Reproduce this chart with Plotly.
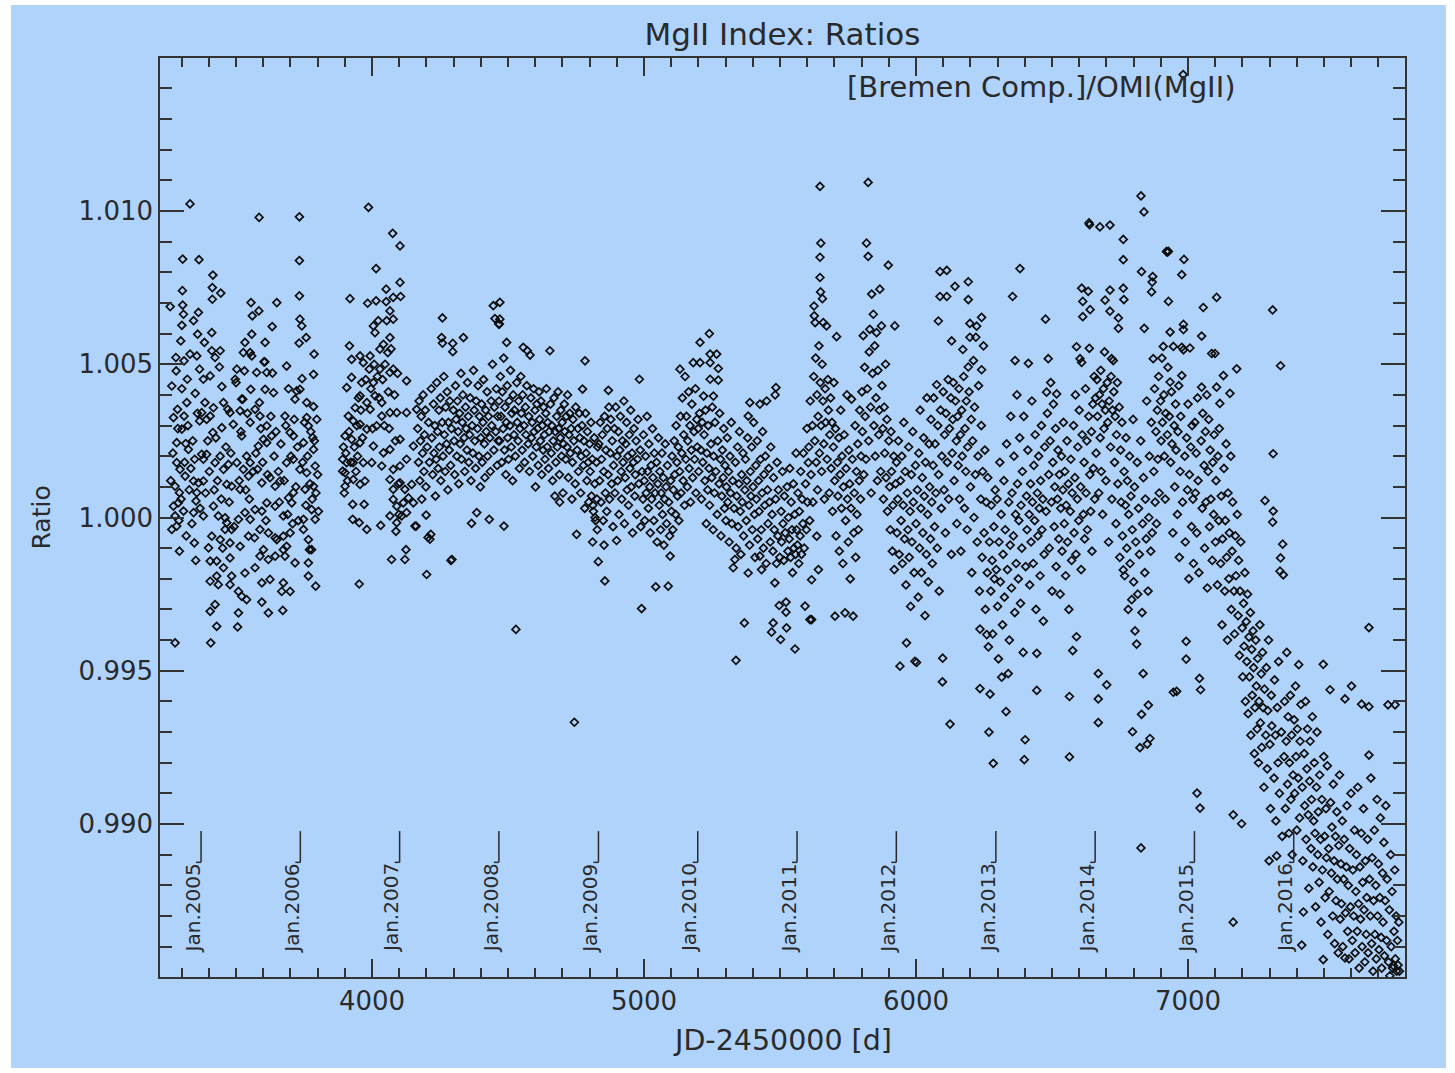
import plotly.graph_objects as go

# ---------------- data (JD-2450000, ratio) ----------------
obs_2004 = [(3258,1.00688),(3264,1.00429),(3264,0.99961),(3270,1.00326),(3270,1.00037),(3276,1.00102),(3276,1.00005),(3276,0.99591),
(3279,1.00522),(3280,1.00478),(3282,1.00244),(3282,1.00179),(3282,0.99972),(3285,1.00353),(3288,1.00048),(3292,1.00081),(3292,0.99890),
(3294,1.00157),(3297,1.00576),(3301,1.00627),(3301,1.00420),(3301,1.00288),(3303,1.00740),(3304,1.00843),(3304,1.00693),(3307,1.00663),
(3307,1.00021),(3309,1.00511),(3309,1.00331),(3313,1.00135),(3315,1.00241),(3319,1.00375),(3321,1.00451),(3325,1.00222),(3331,1.01023),
(3331,1.00533),(3344,1.00642),(3344,1.00119),(3344,1.00016),(3347,0.99917),(3350,1.00405),(3353,1.00054),(3356,1.00527),(3356,1.00081),
(3359,1.00598),(3362,1.00669),(3362,1.00113),(3364,1.00841),(3366,1.00484),(3366,1.00315),
(3260,1.00120),(3268,1.00210),(3286,1.00290),(3290,0.99990),(3298,1.00060),(3311,1.00180),(3317,0.99940),(3323,1.00300),(3328,1.00090),
(3334,1.00160),(3338,0.99980),(3341,1.00250),(3348,1.00190),(3352,0.99860),(3358,1.00340),(3368,1.00030)]

obs_2005 = [(3374,1.00342),(3374,1.00206),(3380,1.00451),(3380,1.00190),(3380,1.00119),(3380,1.00005),(3384,1.00571),(3386,1.00375),
(3392,1.00320),(3392,1.00206),(3399,0.99901),(3405,1.00462),(3405,1.00331),(3405,0.99858),(3405,0.99792),(3405,0.99694),(3407,0.99591),
(3411,1.00603),(3411,1.00544),(3411,0.99939),(3413,1.00750),(3413,1.00712),(3415,1.00791),(3415,1.00277),(3417,1.00358),(3417,1.00037),
(3423,1.00522),(3423,1.00179),(3423,0.99716),(3429,0.99858),(3429,0.99809),(3429,0.99645),(3435,1.00005),(3435,0.99781),(3439,1.00491),
(3442,1.00544),(3442,1.00200),(3442,0.99928),(3444,1.00732),(3448,1.00427),(3448,1.00293),(3454,1.00375),(3454,1.00157),(3454,0.99836),
(3460,0.99999),(3460,0.99961),(3466,1.00108),(3466,0.99983),(3470,1.00353),(3472,1.00173),(3478,1.00342),(3478,0.99917),(3478,0.99868),
(3478,0.99781),(3484,1.00102),(3484,0.99961),(3484,0.99809),(3490,1.00304),(3497,1.00451),(3500,1.00440),(3503,1.00484),(3503,1.00179),
(3506,0.99643),(3509,0.99994),(3509,0.99759),(3509,0.99689),(3515,1.00348),(3515,1.00092),(3515,0.99906),(3521,1.00386),(3521,1.00266),
(3521,0.99743),(3525,1.00386),(3527,1.00538),(3527,1.00157),(3531,1.00478),(3533,1.00571),(3533,1.00016),(3533,0.99819),(3539,1.00200),
(3539,0.99732),(3546,1.00135),(3546,0.99939),(3552,1.00538),(3552,1.00310),(3552,1.00179),(3552,0.99994),(3554,1.00418),(3555,1.00701),
(3558,1.00598),(3558,1.00527),(3560,1.00658),(3568,0.99934),(3570,1.00353),(3570,1.00026),(3570,0.99836),(3576,1.00473),(3579,1.00157),
(3582,1.00233),(3584,1.00674),(3585,1.00979),(3586,1.00375),(3588,1.00331),(3588,0.99961),(3588,0.99874),(3595,1.00113),(3595,1.00021),
(3595,0.99787),(3595,0.99724),(3601,1.00255),(3601,0.99895),(3603,1.00508),(3606,1.00508),(3607,1.00571),(3607,1.00418),(3613,1.00473),
(3613,1.00299),(3613,1.00244),(3613,1.00048),(3619,0.99950),(3619,0.99863),(3619,0.99689),(3625,1.00130),(3625,0.99798),(3631,1.00266),
(3633,1.00623),(3634,1.00471),(3638,1.00407),(3644,1.00102),(3644,1.00037),(3644,0.99934),(3644,0.99874),(3650,1.00701),(3650,0.99928),
(3662,1.00119),(3668,0.99759),(3672,0.99697),(3674,1.00005),(3674,0.99939),(3674,0.99895),(3674,0.99787),(3680,1.00331),(3680,0.99874),
(3686,1.00494),(3686,1.00179),(3686,0.99906),(3693,1.00420),(3693,1.00064),(3699,1.00277),(3699,0.99950),(3699,0.99759),(3705,1.00048),
(3711,1.00266),(3711,1.00190),(3711,1.00081),(3717,1.00386),(3717,0.99852),(3723,1.00413),(3732,1.00569),(3733,1.00981),(3733,1.00838),
(3733,1.00723),(3735,1.00647),(3735,1.00418),(3735,1.00157),
(3388,1.00080),(3396,1.00250),(3402,1.00150),(3420,1.00090),(3426,1.00260),(3432,1.00120),(3446,1.00060),(3451,0.99900),(3463,1.00230),
(3475,1.00050),(3481,1.00210),(3493,0.99970),(3512,1.00120),(3518,1.00280),(3536,1.00090),(3542,1.00340),(3549,1.00060),(3563,1.00150),
(3573,1.00210),(3591,1.00290),(3598,1.00180),(3610,0.99990),(3616,1.00140),(3628,1.00330),(3640,1.00200),(3647,1.00280),(3656,1.00150),
(3659,1.00050),(3665,1.00240),(3677,1.00120),(3683,1.00300),(3690,1.00010),(3702,1.00200),(3708,0.99980),(3714,1.00320),(3720,1.00100),
(3726,1.00230),(3729,0.99990)]

obs_2006 = [(3742,1.00625),(3743,1.00453),(3748,1.00244),(3748,0.99994),(3748,0.99961),(3754,1.00092),(3758,1.00587),(3760,1.00375),
(3760,1.00326),(3760,1.00146),(3766,1.00299),(3766,0.99928),(3766,0.99852),(3766,0.99809),(3770,0.99895),(3778,1.00026),(3778,0.99895),
(3782,1.00261),(3785,1.00467),(3785,1.00362),(3785,1.00222),(3785,1.00102),(3787,1.00533),(3791,1.00168),(3791,0.99994),(3793,0.99776),
(3745,1.00180),(3752,1.00310),(3757,1.00040),(3763,1.00200),(3772,1.00110),(3775,1.00280),(3780,1.00060),(3788,1.00250),(3794,1.00080),
(3797,1.00320),(3800,1.00140),(3803,1.00020),
(3892,1.00190),(3892,1.00151),(3901,1.00266),(3901,1.00146),(3901,1.00102),(3907,1.00424),(3907,1.00179),(3913,1.00331),(3917,1.00560),
(3919,1.00714),(3925,1.00516),(3925,1.00457),(3925,1.00255),(3929,1.00043),(3929,0.99994),(3931,1.00315),(3931,1.00179),(3931,1.00124),
(3938,1.00358),(3953,0.99983),(3953,0.99783),(3956,1.00527),(3956,1.00397),(3956,1.00304),(3956,1.00244),(3956,1.00108),(3962,1.00440),
(3968,1.00505),(3968,1.00179),(3971,1.00043),(3974,1.00119),(3981,1.00375),(3981,1.00288),(3981,0.99961),(3984,1.00699),(3987,1.01012),
(3990,1.00484),(3993,1.00527),(3993,1.00353),(3999,1.00179),(4005,1.00625),(4005,1.00440),(4005,1.00233),(4011,1.00603),(4011,1.00397),
(4015,1.00812),(4015,1.00707),(4017,1.00299),(4023,1.00642),(4029,1.00549),(4029,1.00484),(4032,0.99974),(4036,1.00375),(4036,1.00331),
(4036,1.00168),(4042,1.00565),(4042,1.00211),(4052,1.00745),(4052,1.00704),(4054,1.00642),(4058,1.00538),(4066,1.00674),(4066,1.00587),
(4066,1.00473),(4066,1.00342),(4066,1.00222),(4066,1.00124),(4066,1.00005),(4072,0.99863),(4076,1.00927),(4078,1.00718),(4078,1.00647),
(4078,1.00484),(4078,1.00157),(4078,1.00092),(4078,1.00059),(4088,0.99955),(4091,1.00342),(4091,1.00037),(4091,0.99983),
(3895,1.00230),(3898,1.00080),(3904,1.00210),(3910,1.00120),(3916,1.00280),(3922,1.00180),(3935,1.00230),(3941,1.00150),(3944,1.00300),
(3947,1.00200),(3950,1.00390),(3959,1.00350),(3965,1.00260),(3977,1.00450),(3996,1.00420),(4002,1.00290),(4008,1.00500),(4020,1.00460),
(4026,1.00390),(4039,1.00450),(4045,1.00300),(4048,1.00500),(4060,1.00410),(4063,1.00290),(4070,1.00550),(4083,1.00400),(4086,1.00250),
(4094,1.00470),(4097,1.00110),(4099,1.00010)]

obs_2007 = [(4103,1.00886),(4103,1.00767),(4103,1.00255),(4103,1.00168),(4103,1.00113),(4105,1.00721),(4109,1.00005),(4115,1.00048),
(4121,1.00092),(4121,0.99863),(4125,0.99895),(4127,1.00446),(4127,1.00342),(4127,1.00190),(4127,1.00016),(4134,1.00064),(4146,1.00108),
(4152,1.00233),(4152,1.00048),(4158,0.99972),(4162,0.99972),(4164,1.00353),
(4199,1.00008),(4201,0.99814),(4213,0.99929),(4216,0.99945),(4256,1.00587),(4259,1.00651),(4259,1.00569),(4290,0.99860),(4297,1.00568),
(4297,1.00541),(4336,1.00587),(4366,0.99981),(4385,1.00016),(4431,0.99994),(4446,1.00691),(4452,1.00649),(4466,1.00631),
(4168,1.00290),(4171,1.00180),(4173,1.00380),(4176,1.00120),(4178,1.00250),(4181,1.00330),(4183,1.00060),(4186,1.00210),(4188,1.00400),
(4191,1.00150),(4193,1.00270),(4196,1.00350),(4198,1.00100),(4203,1.00230),(4206,0.99935),(4208,1.00310),(4211,1.00180),(4218,1.00420),
(4220,1.00260),(4223,1.00140),(4226,1.00370),(4228,1.00210),(4231,1.00300),(4233,1.00070),(4236,1.00190),(4238,1.00440),(4241,1.00280),
(4243,1.00160),(4246,1.00350),(4248,1.00230),(4251,1.00390),(4253,1.00120),(4258,1.00310),(4261,1.00200),(4264,1.00460),(4266,1.00270),
(4269,1.00150),(4271,1.00360),(4274,1.00240),(4276,1.00410),(4279,1.00090),(4281,1.00310),(4284,1.00220),(4286,1.00380),(4289,1.00170),
(4292,1.00290),(4294,0.99863),(4299,1.00350),(4302,1.00250),(4304,1.00140),(4307,1.00430),(4309,1.00320),(4312,1.00200),(4314,1.00380),
(4317,1.00280),(4319,1.00110),(4322,1.00340),(4324,1.00240),(4327,1.00470),(4329,1.00190),(4332,1.00310),(4334,1.00400),(4339,1.00260),
(4341,1.00150),(4344,1.00360),(4346,1.00290),(4349,1.00220),(4351,1.00440),(4354,1.00330),(4356,1.00180),(4359,1.00270),(4361,1.00390),
(4364,1.00120),(4368,1.00300),(4371,1.00210),(4373,1.00480),(4376,1.00350),(4378,1.00250),(4381,1.00160),(4383,1.00380),(4388,1.00290),
(4390,1.00430),(4393,1.00200),(4395,1.00330),(4398,1.00100),(4400,1.00260),(4403,1.00370),(4405,1.00180),(4408,1.00310),(4410,1.00450),
(4413,1.00240),(4415,1.00130),(4418,1.00350),(4420,1.00280),(4423,1.00410),(4425,1.00200),(4428,1.00330),(4433,1.00260),(4435,1.00150),
(4438,1.00380),(4440,1.00300),(4443,1.00500),(4448,1.00220),(4450,1.00360),(4455,1.00280),(4457,1.00420),(4460,1.00170),(4462,1.00330),
(4464,1.00250)]

obs_2008 = [(4468,1.00631),(4470,1.00702),(4470,1.00647),(4485,0.99972),(4495,1.00571),(4529,0.99635),(4556,1.00555),(4571,1.00544),
(4581,1.00530),(4654,1.00544),(4744,0.99332),(4752,0.99945),(4774,1.00419),(4783,1.00511),(4811,0.99920),(4832,0.99856),
(4672,1.00070),(4690,1.00050),(4735,1.00060),(4812,1.00040),(4820,1.00000),(4828,0.99960),
(4467,1.00380),(4469,1.00250),(4472,1.00460),(4474,1.00330),(4477,1.00180),(4479,1.00410),(4482,1.00290),(4484,1.00520),(4487,1.00220),
(4489,1.00360),(4492,1.00140),(4494,1.00310),(4497,1.00430),(4499,1.00260),(4502,1.00190),(4504,1.00380),(4507,1.00300),(4509,1.00480),
(4512,1.00230),(4514,1.00340),(4517,1.00120),(4519,1.00400),(4522,1.00270),(4524,1.00350),(4527,1.00200),(4532,1.00440),(4534,1.00310),
(4537,1.00250),(4539,1.00380),(4542,1.00160),(4544,1.00290),(4547,1.00460),(4549,1.00340),(4552,1.00220),(4554,1.00400),(4559,1.00300),
(4561,1.00180),(4564,1.00360),(4566,1.00270),(4569,1.00430),(4574,1.00240),(4576,1.00330),(4579,1.00150),(4584,1.00390),(4586,1.00260),
(4589,1.00310),(4591,1.00200),(4594,1.00420),(4596,1.00280),(4599,1.00350),(4601,1.00100),(4604,1.00230),(4606,1.00370),(4609,1.00290),
(4611,1.00170),(4614,1.00410),(4616,1.00320),(4619,1.00250),(4621,1.00380),(4624,1.00140),(4626,1.00300),(4629,1.00220),(4631,1.00360),
(4634,1.00270),(4636,1.00190),(4639,1.00340),(4641,1.00420),(4644,1.00230),(4646,1.00310),(4649,1.00160),(4651,1.00280),(4656,1.00370),
(4659,1.00210),(4661,1.00300),(4664,1.00120),(4666,1.00250),(4669,1.00390),(4674,1.00280),(4676,1.00180),(4679,1.00330),(4681,1.00230),
(4684,1.00410),(4686,1.00290),(4689,1.00140),(4692,1.00260),(4694,1.00350),(4697,1.00200),(4699,1.00310),(4702,1.00080),(4704,1.00240),
(4707,1.00370),(4709,1.00280),(4712,1.00190),(4714,1.00330),(4717,1.00230),(4719,1.00400),(4722,1.00130),(4724,1.00270),(4727,1.00340),
(4729,1.00210),(4732,1.00290),(4737,1.00180),(4739,1.00320),(4742,1.00250),(4747,1.00110),(4749,1.00360),(4754,1.00220),(4757,1.00290),
(4759,1.00150),(4762,1.00340),(4764,1.00260),(4767,1.00080),(4769,1.00200),(4772,1.00300),(4777,1.00170),(4779,1.00250),(4782,1.00030),
(4785,1.00340),(4787,1.00210),(4790,1.00120),(4792,1.00280),(4795,1.00180),(4797,1.00050),(4800,1.00240),(4802,1.00150),(4805,1.00310),
(4807,1.00070),(4810,1.00190),(4814,1.00020),(4817,1.00260),(4819,1.00110),(4822,0.99990),(4825,1.00180),(4827,1.00060),(4830,1.00230)]

obs_2009 = [(4853,0.99910),(4856,0.99793),(4869,1.00415),(4899,0.99925),(4983,1.00451),(4991,0.99703),(5043,0.99774),(5089,0.99776),
(4834,1.00240),(4837,1.00120),(4839,1.00310),(4842,1.00050),(4844,1.00190),(4847,1.00270),(4850,0.99990),(4852,1.00150),(4855,1.00330),
(4858,1.00080),(4860,1.00220),(4863,1.00020),(4865,1.00290),(4868,1.00140),(4871,1.00360),(4873,1.00060),(4876,1.00210),(4878,1.00320),
(4881,1.00110),(4883,1.00250),(4886,0.99970),(4888,1.00170),(4891,1.00290),(4893,1.00080),(4896,1.00360),(4901,1.00200),(4903,1.00120),
(4906,1.00280),(4908,1.00010),(4911,1.00220),(4913,1.00330),(4916,1.00150),(4918,1.00060),(4921,1.00250),(4923,1.00180),(4926,1.00380),
(4928,0.99980),(4931,1.00130),(4933,1.00240),(4936,1.00310),(4938,1.00090),(4941,1.00200),(4943,1.00040),(4946,1.00270),(4948,1.00160),
(4951,1.00350),(4953,1.00100),(4956,1.00210),(4958,0.99950),(4961,1.00180),(4963,1.00290),(4966,1.00070),(4968,1.00140),(4971,1.00250),
(4973,1.00010),(4976,1.00190),(4978,1.00320),(4981,1.00110),(4986,1.00220),(4988,0.99970),(4993,1.00150),(4996,1.00060),(4998,1.00270),
(5001,1.00120),(5003,0.99990),(5006,1.00200),(5008,1.00080),(5011,1.00330),(5013,1.00150),(5016,1.00030),(5018,1.00240),(5021,1.00100),
(5023,0.99950),(5026,1.00170),(5028,1.00060),(5031,1.00290),(5033,1.00130),(5036,0.99990),(5038,1.00210),(5041,1.00080),(5046,1.00180),
(5048,0.99920),(5051,1.00110),(5053,1.00260),(5056,1.00040),(5058,1.00150),(5061,0.99960),(5063,1.00080),(5066,1.00210),(5068,1.00010),
(5071,1.00130),(5073,0.99910),(5076,1.00060),(5078,1.00240),(5081,1.00100),(5083,0.99980),(5086,1.00170),(5091,1.00050),(5094,0.99940),
(5096,0.99874),(5098,1.00120),(5101,1.00020),(5103,1.00200),(5106,0.99960),(5108,1.00090),(5111,1.00250),(5113,1.00140),(5116,1.00010),
(5118,1.00300),(5121,1.00180),(5123,1.00070),(5126,1.00230),(5128,0.99990),(5131,1.00150),(5132,1.00484),(5134,1.00330),(5136,1.00080),
(5139,1.00210),(5141,1.00390),(5144,1.00120),(5146,1.00270),(5149,1.00040),(5151,1.00460),(5154,1.00190),(5156,1.00330),(5159,1.00100),
(5161,1.00250),(5164,1.00410),(5166,1.00160),(5169,1.00300),(5171,1.00050),(5174,1.00220),(5176,1.00370),(5179,1.00130),(5181,1.00505),
(5184,1.00280),(5186,1.00190),(5189,1.00420),(5191,1.00080),(5194,1.00320),(5196,1.00230)]

obs_2010 = [(5206,1.00571),(5206,1.00505),(5240,1.00600),(5243,1.00533),(5267,1.00533),(5243,1.00505),(5273,1.00486),(5243,1.00451),
(5273,1.00448),(5219,1.00396),(5255,1.00396),(5369,0.99656),(5338,0.99534),(5475,0.99656),(5469,0.99626),(5502,0.99602),(5524,0.99640),
(5555,0.99571),(5522,0.99724),(5497,0.99713),(5522,0.99691),(5485,1.00424),(5451,1.00380),(5389,1.00375),(5383,1.00331),(5481,0.99787),
(5426,0.99874),(5432,0.99830),(5383,0.99819),(5328,0.99836),(5334,0.99863),(5482,1.00400),(5426,1.00370),
(5199,1.00290),(5201,1.00150),(5204,1.00340),(5209,1.00220),(5211,1.00060),(5214,1.00310),(5216,1.00180),(5221,1.00270),(5224,1.00120),
(5226,1.00350),(5229,0.99980),(5231,1.00210),(5234,1.00090),(5236,1.00300),(5239,1.00160),(5241,1.00040),(5246,1.00240),(5249,1.00130),
(5251,1.00360),(5254,0.99960),(5256,1.00200),(5259,1.00080),(5261,1.00310),(5264,1.00150),(5269,1.00010),(5271,1.00250),(5276,1.00110),
(5278,1.00340),(5281,1.00190),(5283,0.99940),(5286,1.00070),(5288,1.00220),(5291,1.00130),(5293,1.00290),(5296,1.00030),(5298,1.00170),
(5301,0.99990),(5303,1.00100),(5306,1.00260),(5308,1.00050),(5311,1.00150),(5313,0.99920),(5316,1.00200),(5318,1.00080),(5321,1.00310),
(5323,0.99980),(5326,1.00120),(5331,1.00030),(5336,1.00180),(5339,0.99900),(5341,1.00070),(5344,1.00230),(5346,0.99970),(5349,1.00110),
(5351,1.00280),(5354,1.00020),(5356,0.99880),(5359,1.00140),(5361,1.00050),(5364,1.00210),(5366,0.99940),(5371,1.00090),(5373,1.00190),
(5376,0.99990),(5378,1.00120),(5381,1.00260),(5386,1.00040),(5388,0.99910),(5391,1.00150),(5393,1.00070),(5396,1.00230),(5398,0.99960),
(5401,1.00100),(5403,1.00310),(5406,1.00010),(5408,0.99870),(5411,1.00170),(5413,1.00060),(5416,1.00250),(5418,0.99930),(5421,1.00120),
(5423,1.00020),(5428,1.00190),(5431,0.99960),(5434,1.00080),(5436,1.00280),(5439,0.99900),(5441,1.00140),(5444,1.00040),(5446,1.00200),
(5449,0.99850),(5454,1.00090),(5456,0.99980),(5459,1.00160),(5461,1.00050),(5464,0.99920),(5466,1.00230),(5471,1.00010),(5474,0.99890),
(5476,1.00130),(5479,0.99960),(5484,1.00060),(5487,0.99850),(5489,1.00180),(5492,0.99940),(5494,1.00090),(5499,0.99870),(5504,1.00020),
(5506,0.99920),(5509,1.00150),(5511,0.99980),(5514,0.99860),(5516,1.00070),(5519,0.99950),(5526,1.00100),(5529,0.99890),(5531,1.00000),
(5534,0.99930),(5536,1.00160),(5539,0.99870),(5541,1.00050),(5544,0.99960),(5546,0.99820),(5549,1.00110),(5551,0.99900),(5554,1.00010),
(5557,0.99880),(5559,1.00210),(5561,0.99960)]

obs_2011 = [(5647,1.01080),(5650,1.00895),(5647,1.00849),(5647,1.00783),(5649,1.00736),(5656,1.00714),(5625,1.00690),(5626,1.00658),
(5629,1.00636),(5659,1.00636),(5671,1.00625),(5708,1.00590),(5604,1.00179),(5635,0.99939),(5641,0.99830),(5616,0.99797),(5610,0.99667),
(5702,0.99678),(5739,0.99689),(5769,0.99678),(5592,0.99711),(5616,0.99667),(5763,1.00386),
(5824,1.01093),(5818,1.00895),(5824,1.00852),(5898,1.00823),(5837,1.00729),(5867,1.00745),(5843,1.00663),(5922,1.00625),(5806,1.00593),
(5830,1.00614),(5855,1.00603),(5873,1.00625),
(5564,0.99910),(5566,1.00080),(5569,0.99850),(5571,1.00020),(5574,0.99940),(5576,1.00150),(5579,0.99880),(5581,1.00060),(5584,0.99980),
(5586,1.00210),(5589,0.99900),(5594,1.00110),(5597,0.99960),(5599,1.00290),(5601,1.00050),(5606,1.00230),(5609,0.99990),(5611,1.00380),
(5614,1.00140),(5619,1.00300),(5621,1.00050),(5624,1.00460),(5628,1.00250),(5631,1.00520),(5633,1.00180),(5636,1.00400),(5638,1.00090),
(5640,1.00330),(5643,1.00560),(5645,1.00210),(5648,1.00440),(5651,1.00300),(5653,1.00150),(5655,1.00500),(5658,1.00380),(5661,1.00240),
(5663,1.00060),(5666,1.00420),(5668,1.00310),(5673,1.00190),(5676,1.00450),(5678,1.00350),(5681,1.00080),(5683,1.00270),(5686,1.00390),
(5688,1.00160),(5691,1.00310),(5693,1.00020),(5696,1.00230),(5698,1.00440),(5701,1.00120),(5704,1.00290),(5706,0.99940),(5711,1.00180),
(5713,1.00070),(5716,1.00260),(5718,0.99890),(5721,1.00140),(5723,1.00350),(5726,1.00030),(5728,1.00200),(5731,0.99850),(5733,1.00100),
(5736,1.00270),(5741,0.99990),(5743,1.00160),(5746,1.00400),(5748,1.00060),(5751,0.99920),(5753,1.00220),(5756,1.00110),(5758,0.99800),
(5761,1.00030),(5766,1.00190),(5771,0.99950),(5773,1.00080),(5776,1.00300),(5778,0.99870),(5781,1.00150),(5783,1.00010),(5786,1.00240),
(5788,0.99960),(5791,1.00120),(5793,1.00350),(5796,1.00060),(5798,1.00200),(5801,1.00410),(5803,1.00280),(5808,1.00140),(5811,1.00490),
(5813,1.00330),(5816,1.00190),(5821,1.00420),(5826,1.00250),(5828,1.00540),(5833,1.00360),(5835,1.00080),(5840,1.00470),(5845,1.00300),
(5848,1.00560),(5850,1.00200),(5853,1.00390),(5858,1.00120),(5860,1.00480),(5863,1.00270),(5865,1.00350),(5870,1.00150),(5875,1.00430),
(5878,1.00290),(5880,1.00060),(5883,1.00360),(5885,1.00210),(5888,1.00500),(5890,1.00130),(5893,1.00320),(5895,1.00020),(5900,1.00250),
(5903,1.00100),(5905,0.99960),(5908,1.00280),(5910,1.00150),(5913,0.99890),(5915,1.00040),(5918,1.00200),(5920,0.99830),(5925,1.00110)]

obs_2012 = [(6088,1.00802),(6113,1.00806),(6088,1.00721),(6113,1.00721),(6192,1.00769),(6192,1.00711),(6143,1.00754),(6082,1.00641),
(6198,1.00633),(6223,1.00624),(6241,1.00653),(6131,1.00576),(6198,1.00588),(6220,1.00588),(6172,1.00548),(6248,1.00560),(6211,1.00512),
(6192,1.00491),(6241,1.00482),(6137,1.00440),(6076,1.00433),
(5941,0.99515),(5965,0.99591),(5996,0.99531),(6002,0.99527),(6098,0.99541),(6097,0.99464),(6125,0.99326),(6235,0.99636),(6260,0.99618),
(6266,0.99578),(6235,0.99442),(6272,0.99424),(6284,0.99198),(6268,0.99300),
(5928,1.00180),(5930,0.99950),(5933,1.00060),(5935,1.00250),(5938,0.99880),(5943,1.00120),(5945,0.99990),(5948,1.00200),(5950,0.99850),
(5953,1.00040),(5955,1.00310),(5958,0.99930),(5960,1.00150),(5963,0.99780),(5968,1.00080),(5970,0.99960),(5973,1.00230),(5975,0.99870),
(5978,1.00020),(5980,0.99710),(5983,1.00140),(5985,0.99920),(5988,1.00280),(5990,1.00050),(5993,0.99820),(5998,1.00170),(6000,0.99980),
(6005,1.00090),(6008,0.99740),(6010,1.00210),(6013,0.99900),(6015,1.00350),(6018,1.00030),(6020,0.99820),(6023,1.00130),(6025,0.99950),
(6028,1.00260),(6030,1.00070),(6033,0.99680),(6035,1.00180),(6038,0.99880),(6040,1.00390),(6043,1.00010),(6045,0.99790),(6048,1.00240),
(6050,1.00100),(6053,0.99930),(6055,1.00320),(6058,1.00050),(6060,0.99850),(6063,1.00170),(6065,1.00390),(6068,0.99970),(6070,1.00240),
(6073,1.00080),(6078,0.99900),(6080,1.00300),(6083,1.00140),(6085,0.99760),(6090,1.00350),(6093,1.00030),(6095,1.00200),(6100,1.00410),
(6103,1.00090),(6105,1.00270),(6108,0.99950),(6110,1.00340),(6115,1.00180),(6118,1.00450),(6120,1.00060),(6123,1.00290),(6128,1.00390),
(6130,0.99880),(6133,1.00210),(6135,1.00320),(6140,1.00120),(6145,1.00380),(6148,1.00250),(6150,0.99980),(6153,1.00330),(6155,1.00170),
(6158,1.00420),(6160,1.00060),(6163,1.00270),(6165,0.99890),(6168,1.00350),(6170,1.00200),(6175,1.00460),(6178,1.00030),(6180,1.00290),
(6183,1.00150),(6185,1.00380),(6188,0.99960),(6190,1.00230),(6195,1.00410),(6200,1.00100),(6203,1.00320),(6205,0.99820),(6208,1.00250),
(6213,1.00000),(6215,1.00360),(6218,1.00140),(6225,0.99920),(6228,1.00200),(6230,1.00430),(6233,0.99760),(6238,1.00060),(6240,1.00300),
(6243,0.99870),(6245,1.00150),(6250,0.99950),(6253,1.00220),(6255,0.99700),(6258,1.00050),(6262,0.99820),(6264,1.00130),(6270,0.99920),
(6275,0.99760),(6277,1.00040),(6280,0.99860),(6282,0.99620),(6286,0.99970),(6288,0.99800),(6291,1.00090)]

obs_2013 = [(6382,1.00812),(6355,1.00721),(6476,1.00647),(6364,1.00512),(6413,1.00503),(6486,1.00518),(6480,1.00409),(6517,1.00403),
(6303,0.99539),(6315,0.99479),(6339,0.99491),(6331,0.99367),(6401,0.99275),(6398,0.99210),(6444,0.99436),(6444,0.99557),(6468,0.99662),
(6609,1.00748),(6633,1.00738),(6613,1.00705),(6640,1.00678),(6613,1.00655),(6590,1.00557),(6637,1.00552),(6603,1.00518),(6609,1.00506),
(6564,0.99416),(6564,0.99219),(6576,0.99566),(6590,0.99611),(6636,1.00961),(6638,1.00955),
(6295,0.99830),(6298,1.00060),(6300,0.99710),(6305,0.99920),(6308,1.00180),(6310,0.99790),(6313,1.00010),(6318,0.99650),(6320,0.99880),
(6323,1.00120),(6325,0.99740),(6328,0.99960),(6333,1.00240),(6336,0.99830),(6341,1.00050),(6343,0.99600),(6346,0.99910),(6348,1.00330),
(6351,0.99770),(6353,1.00080),(6358,0.99940),(6360,1.00200),(6363,0.99690),(6366,1.00010),(6368,0.99850),(6371,1.00400),(6373,1.00110),
(6376,0.99800),(6378,0.99990),(6381,1.00260),(6384,0.99720),(6386,1.00040),(6389,0.99900),(6391,1.00150),(6394,0.99560),(6396,1.00330),
(6403,0.99840),(6406,1.00070),(6408,0.99960),(6411,1.00220),(6416,1.00010),(6418,0.99780),(6421,1.00110),(6423,0.99920),(6426,1.00380),
(6428,1.00050),(6431,0.99850),(6433,1.00170),(6436,0.99990),(6438,1.00270),(6441,0.99700),(6446,1.00080),(6448,0.99940),(6451,1.00200),
(6453,1.00030),(6456,0.99810),(6458,1.00120),(6461,1.00300),(6463,0.99960),(6466,1.00060),(6471,0.99880),(6473,1.00230),(6478,1.00020),
(6483,1.00340),(6488,1.00140),(6490,0.99900),(6493,1.00250),(6495,1.00440),(6498,1.00050),(6500,0.99760),(6503,1.00180),(6505,1.00370),
(6508,0.99970),(6510,1.00100),(6513,1.00290),(6515,0.99840),(6520,1.00060),(6522,1.00220),(6525,0.99930),(6527,1.00140),(6530,0.99750),
(6532,1.00030),(6535,1.00200),(6537,0.99890),(6540,1.00090),(6542,1.00310),(6545,0.99980),(6547,1.00150),(6550,0.99810),(6552,1.00040),
(6555,1.00250),(6557,0.99920),(6560,1.00110),(6562,0.99700),(6567,1.00020),(6569,1.00190),(6572,0.99860),(6574,1.00080),(6579,1.00300),
(6581,0.99950),(6584,1.00130),(6586,1.00400),(6588,0.99880),(6593,1.00060),(6595,1.00230),(6598,0.99990),(6600,1.00350),(6605,1.00100),
(6607,0.99830),(6611,1.00270),(6615,1.00010),(6618,1.00180),(6620,0.99930),(6623,1.00420),(6625,1.00080),(6628,1.00250),(6630,0.99960),
(6635,1.00330),(6639,1.00140),(6642,1.00020),(6645,1.00280),(6647,0.99890),(6650,1.00370),(6652,1.00160),(6655,1.00460),(6657,1.00060)]

obs_2014 = [(6676,1.00948),(6713,1.00954),(6762,1.00907),(6827,1.01049),(6838,1.00997),(6868,1.00768),(6923,1.00866),
(6762,1.00841),(6713,1.00742),(6762,1.00748),(6764,1.00711),(6829,1.00802),(6870,1.00786),(6866,1.00736),(6921,1.00868),(6695,1.00709),
(6713,1.00673),(6744,1.00617),(6744,1.00651),(6839,1.00617),(6719,1.00518),(6725,1.00512),(6872,1.00518),
(6762,0.99829),(6793,0.99732),(6811,0.99587),(6835,0.99491),(6854,0.99388),(6829,0.99358),(6796,0.99301),(6860,0.99279),(6823,0.99249),
(6850,0.99261),(6670,0.99491),(6701,0.99454),(6670,0.99408),(6670,0.99331),(6827,0.98922),
(6928,1.00868),(6985,1.00842),(6977,1.00792),(6928,1.00705),(6934,1.00605),(6983,1.00630),(6983,1.00613),(6946,1.00558),(6977,1.00555),
(6983,1.00547),(7007,1.00553),(6909,1.00558),(6934,1.00442),(6977,1.00463),(6946,0.99430),(6958,0.99433),(6993,0.99596),(6993,0.99538),
(6982,1.01445),
(6660,1.00390),(6662,1.00210),(6665,1.00450),(6667,1.00330),(6672,1.00080),(6674,1.00400),(6677,1.00260),(6679,1.00480),(6681,1.00150),
(6684,1.00370),(6686,1.00010),(6689,1.00420),(6691,1.00290),(6693,1.00540),(6696,1.00350),(6698,1.00120),(6703,1.00440),(6705,1.00310),
(6708,0.99920),(6710,1.00380),(6715,1.00230),(6717,1.00460),(6720,1.00060),(6722,1.00350),(6727,1.00410),(6730,1.00180),(6732,1.00330),
(6735,0.99980),(6737,1.00270),(6740,1.00440),(6742,1.00110),(6747,1.00360),(6749,0.99870),(6752,1.00220),(6754,1.00050),(6757,1.00310),
(6759,0.99940),(6765,1.00150),(6767,0.99810),(6770,1.00040),(6772,1.00260),(6775,0.99900),(6777,1.00120),(6780,0.99700),(6782,1.00010),
(6785,1.00200),(6787,0.99850),(6790,1.00070),(6795,0.99960),(6798,1.00320),(6800,0.99790),(6803,1.00100),(6805,0.99630),(6808,0.99920),
(6813,1.00180),(6815,0.99750),(6818,1.00030),(6821,0.99880),(6826,1.00250),(6831,0.99690),(6833,0.99980),(6836,1.00130),(6841,0.99820),
(6843,1.00060),(6846,0.99930),(6848,1.00380),(6853,0.99760),(6856,1.00000),(6858,1.00200),(6863,0.99890),(6865,1.00310),(6868,0.99950),
(6874,1.00150),(6877,1.00420),(6879,1.00050),(6882,1.00280),(6884,0.99980),(6887,1.00350),(6889,1.00190),(6892,1.00460),(6894,1.00080),
(6899,1.00380),(6901,1.00250),(6904,1.00520),(6906,1.00310),(6911,1.00400),(6913,1.00200),(6916,1.00060),(6918,1.00340),(6924,1.00270),
(6926,1.00490),(6931,1.00330),(6936,1.00180),(6939,1.00410),(6941,1.00240),(6944,0.99950),(6949,1.00300),(6951,1.00100),(6954,1.00370),
(6956,1.00220),(6961,1.00010),(6963,1.00280),(6966,1.00430),(6968,0.99870),(6971,1.00150),(6973,1.00330),(6980,1.00050),(6988,1.00200),
(6990,0.99920),(6995,1.00260),(6998,1.00090),(7000,1.00370),(7003,0.99800),(7005,1.00140),(7010,1.00230),(7013,0.99970),(7015,1.00300),
(7018,1.00060),(7020,0.99850)]

obs_2015 = [(7056,1.00685),(7105,1.00718),(7050,1.00592),(7087,1.00535),(7099,1.00535),(7050,1.00425),(7105,1.00425),(7130,1.00463),
(7179,1.00485),(7154,1.00405),(7117,1.00372),(7042,0.99475),(7046,0.99438),(7033,0.99101),(7044,0.99052),(7166,0.98680),(7166,0.99030),
(7197,0.99001),(7283,1.00055),(7313,1.00021),(7311,0.99985),(7348,0.99913),(7340,0.99868),(7338,0.99825),(7350,0.99813),(7313,1.00208),
(7311,1.00677),(7340,1.00495),(7298,0.98880),(7326,0.98896),
(7025,1.00310),(7027,1.00080),(7030,1.00210),(7032,0.99950),(7035,1.00390),(7037,1.00120),(7040,0.99820),(7048,1.00250),(7052,1.00030),
(7054,1.00340),(7059,1.00170),(7061,0.99900),(7064,1.00280),(7066,1.00050),(7069,1.00400),(7071,0.99770),(7074,1.00150),(7076,1.00320),
(7079,0.99970),(7081,1.00220),(7084,1.00060),(7089,0.99860),(7091,1.00180),(7094,1.00010),(7096,1.00270),(7101,0.99920),(7103,1.00120),
(7108,0.99780),(7110,1.00200),(7113,0.99990),(7115,1.00290),(7120,0.99850),(7122,1.00070),(7125,0.99650),(7127,0.99930),(7132,1.00160),
(7135,0.99760),(7137,0.99990),(7140,1.00240),(7142,0.99870),(7145,0.99600),(7147,1.00080),(7150,0.99800),(7152,0.99950),(7157,1.00200),
(7159,0.99700),(7162,0.99890),(7164,1.00050),(7169,0.99760),(7171,0.99620),(7174,0.99940),(7176,0.99810),(7181,1.00010),(7184,0.99680),
(7186,0.99860),(7189,0.99550),(7191,0.99760),(7194,0.99920),(7199,0.99640),(7201,0.99480),(7204,0.99720),(7206,0.99580),(7209,0.99820),
(7211,0.99400),(7214,0.99660),(7216,0.99530),(7219,0.99750),(7221,0.99360),(7224,0.99610),(7226,0.99480),(7229,0.99690),(7231,0.99290),
(7234,0.99570),(7236,0.99420),(7239,0.99630),(7241,0.99510),(7244,0.99230),(7246,0.99380),(7249,0.99600),(7251,0.99450),(7254,0.99310),
(7256,0.99540),(7259,0.99200),(7261,0.99400),(7264,0.99650),(7266,0.99330),(7269,0.99490),(7271,0.99250),(7274,0.99560),(7276,0.99380),
(7279,0.99120),(7281,0.99440),(7286,0.99290),(7288,0.99510),(7291,0.99180),(7293,0.99370),(7296,0.99600),(7301,0.99260),(7303,0.99050),
(7306,0.99420),(7308,0.99320),(7316,0.99150),(7318,0.99470),(7321,0.99290),(7323,0.99010),(7328,0.99380),(7331,0.99200),(7333,0.99530),
(7336,0.99100),(7343,0.99300),(7346,0.98960),(7353,0.99220),(7355,0.99400),(7358,0.99050),(7361,0.99270),(7363,0.99560),(7366,0.99130),
(7368,0.99350),(7371,0.98970),(7373,0.99200),(7376,0.99420),(7378,0.99080),(7381,0.99290),(7383,0.98900),(7386,0.99160)]

obs_2016 = [(7418,0.98605),(7424,0.98713),(7497,0.98558),(7577,0.98563),(7755,0.98538),(7742,0.98505),(7665,0.99641),(7601,0.99450),
(7577,0.99408),(7638,0.99391),(7665,0.99383),(7665,0.99225),(7497,0.99521),(7522,0.99438),
(7390,0.99340),(7392,0.99100),(7395,0.99450),(7397,0.99220),(7400,0.98980),(7402,0.99310),(7405,0.99150),(7407,0.99520),(7410,0.99020),
(7412,0.99270),(7415,0.99390),(7420,0.99120),(7422,0.98880),(7427,0.99230),(7429,0.99060),(7432,0.99400),(7434,0.98950),(7437,0.99180),
(7439,0.99310),(7442,0.99030),(7444,0.98790),(7447,0.99140),(7449,0.99270),(7452,0.98920),(7454,0.99080),(7457,0.99350),(7459,0.98860),
(7462,0.99010),(7464,0.99200),(7467,0.98970),(7469,0.98730),(7472,0.99120),(7474,0.99300),(7477,0.98900),(7479,0.99040),(7482,0.98810),
(7484,0.99160),(7487,0.98950),(7489,0.98680),(7492,0.99080),(7494,0.98850),(7499,0.99220),(7502,0.98960),(7504,0.98760),(7507,0.99050),
(7509,0.98890),(7512,0.99190),(7514,0.98640),(7517,0.98920),(7519,0.98780),(7524,0.99070),(7527,0.98840),(7529,0.98990),(7532,0.98700),
(7534,0.99130),(7537,0.98880),(7539,0.98610),(7542,0.98960),(7544,0.98750),(7547,0.99040),(7549,0.98820),(7552,0.98580),(7554,0.98930),
(7557,0.99160),(7559,0.98690),(7562,0.98870),(7564,0.98740),(7567,0.99010),(7569,0.98600),(7572,0.98820),(7574,0.98950),(7579,0.98710),
(7582,0.98860),(7584,0.99060),(7587,0.98650),(7589,0.98800),(7592,0.98560),(7594,0.98920),(7597,0.98730),(7599,0.99100),(7604,0.98620),
(7606,0.98850),(7609,0.98700),(7612,0.98980),(7614,0.98580),(7617,0.98780),(7619,0.98900),(7622,0.98650),(7624,0.99120),(7627,0.98740),
(7629,0.98530),(7632,0.98860),(7634,0.98690),(7637,0.98970),(7640,0.98600),(7642,0.98810),(7645,0.99050),(7647,0.98720),(7650,0.98550),
(7652,0.98880),(7655,0.98640),(7657,0.98760),(7660,0.98950),(7662,0.98580),(7667,0.98820),(7670,0.98700),(7672,0.99150),(7675,0.98610),
(7677,0.98890),(7680,0.98520),(7682,0.98750),(7685,0.98980),(7687,0.98640),(7690,0.98800),(7692,0.98560),(7695,0.99080),(7697,0.98700),
(7700,0.98870),(7702,0.98590),(7705,0.98760),(7707,0.99020),(7710,0.98630),(7712,0.98530),(7715,0.98840),(7717,0.98680),(7720,0.98940),
(7722,0.98570),(7725,0.98750),(7727,0.99060),(7730,0.98620),(7732,0.98820),(7735,0.99389),(7737,0.98550),(7740,0.98720),(7745,0.98900),
(7747,0.98600),(7750,0.98780),(7752,0.98530),(7757,0.98650),(7760,0.98850),(7761,0.99389),(7762,0.98560),(7765,0.98700),(7767,0.98520),
(7770,0.98620),(7772,0.98540),(7775,0.98680),(7777,0.98520)]

jan_jd = [3371.5, 3736.5, 4101.5, 4466.5, 4832.5, 5197.5, 5562.5, 5927.5, 6293.5, 6658.5, 7023.5, 7388.5]
jan_labels = ["Jan.2005", "Jan.2006", "Jan.2007", "Jan.2008", "Jan.2009", "Jan.2010",
              "Jan.2011", "Jan.2012", "Jan.2013", "Jan.2014", "Jan.2015", "Jan.2016"]

x_tickvals = [4000, 5000, 6000, 7000]
y_tickvals = [0.990, 0.995, 1.000, 1.005, 1.010]

title_text = "MgII Index: Ratios"
series_label = "[Bremen Comp.]/OMI(MgII)"
x_title = "JD-2450000 [d]"
y_title = "Ratio"

# ---------------- figure ----------------
all_obs = [obs_2004, obs_2005, obs_2006, obs_2007, obs_2008, obs_2009, obs_2010,
           obs_2011, obs_2012, obs_2013, obs_2014, obs_2015, obs_2016]
jd = [p[0] for obs in all_obs for p in obs]
ratio = [p[1] for obs in all_obs for p in obs]

BG = "#b0d3fb"
INK = "#2a2a2a"
FONT = "DejaVu Sans"

fig = go.Figure()
fig.add_trace(go.Scatter(
    x=jd, y=ratio, mode="markers",
    marker=dict(symbol="diamond-open", size=6, color="#0d0d0d", line=dict(width=1.7, color="#0d0d0d")),
    hoverinfo="x+y", showlegend=False,
))

axis_common = dict(
    showline=True, linecolor="#333333", linewidth=1.5, mirror="ticks",
    ticks="inside", tickcolor="#333333", tickwidth=1.5,
    showgrid=False, zeroline=False,
    tickfont=dict(family=FONT, size=26, color=INK),
)

fig.update_xaxes(
    range=[3220.6, 7797.6], tickmode="array", tickvals=x_tickvals,
    ticktext=[str(v) for v in x_tickvals], ticklen=18,
    minor=dict(dtick=100, tick0=0, ticklen=9, ticks="inside", tickcolor="#333333", tickwidth=1.5),
    **axis_common,
)
fig.update_yaxes(
    range=[0.98501, 1.01499], tickmode="array", tickvals=y_tickvals,
    ticktext=[f"{v:.3f}" for v in y_tickvals], ticklen=24,
    minor=dict(dtick=0.001, tick0=0.985, ticklen=12, ticks="inside", tickcolor="#333333", tickwidth=1.5),
    **axis_common,
)

shapes = [dict(type="rect", xref="paper", yref="paper", x0=-0.1197, x1=1.0329, y0=-0.0990, y1=1.0577,
               fillcolor=BG, line=dict(width=0), layer="below")]
annotations = []
for xj, lab in zip(jan_jd, jan_labels):
    shapes.append(dict(type="line", xref="x", yref="y", x0=xj, x1=xj, y0=0.98875, y1=0.98977,
                       line=dict(color=INK, width=1.5)))
    shapes.append(dict(type="line", xref="x", yref="y", xsizemode="pixel", xanchor=xj, x0=-5, x1=0,
                       y0=0.98875, y1=0.98875, line=dict(color=INK, width=1.5)))
    annotations.append(dict(x=xj, y=0.98875, xref="x", yref="y", text=lab, textangle=-90,
                            showarrow=False, xanchor="right", yanchor="top", xshift=6, yshift=1,
                            font=dict(family=FONT, size=20, color=INK)))

annotations.append(dict(x=0.5502, y=0.9684, xref="paper", yref="paper", text=series_label,
                        showarrow=False, xanchor="left", yanchor="middle",
                        font=dict(family=FONT, size=29, color=INK)))
annotations.append(dict(x=0.5, y=-0.0686, xref="paper", yref="paper", text=x_title,
                        showarrow=False, xanchor="center", yanchor="middle",
                        font=dict(family=FONT, size=28.5, color=INK)))
annotations.append(dict(x=-0.0948, y=0.5, xref="paper", yref="paper", text=y_title, textangle=-90,
                        showarrow=False, xanchor="center", yanchor="middle",
                        font=dict(family=FONT, size=25, color=INK)))

fig.update_layout(
    width=1455, height=1073,
    margin=dict(l=160, r=50, t=58, b=96, pad=0),
    paper_bgcolor="white", plot_bgcolor="rgba(0,0,0,0)",
    title=dict(text=title_text, x=0.5, xref="paper", y=1 - 34 / 1073, yref="container",
               xanchor="center", yanchor="middle", font=dict(family=FONT, size=31, color=INK)),
    shapes=shapes, annotations=annotations,
    showlegend=False,
)

fig.write_html("out.html")
